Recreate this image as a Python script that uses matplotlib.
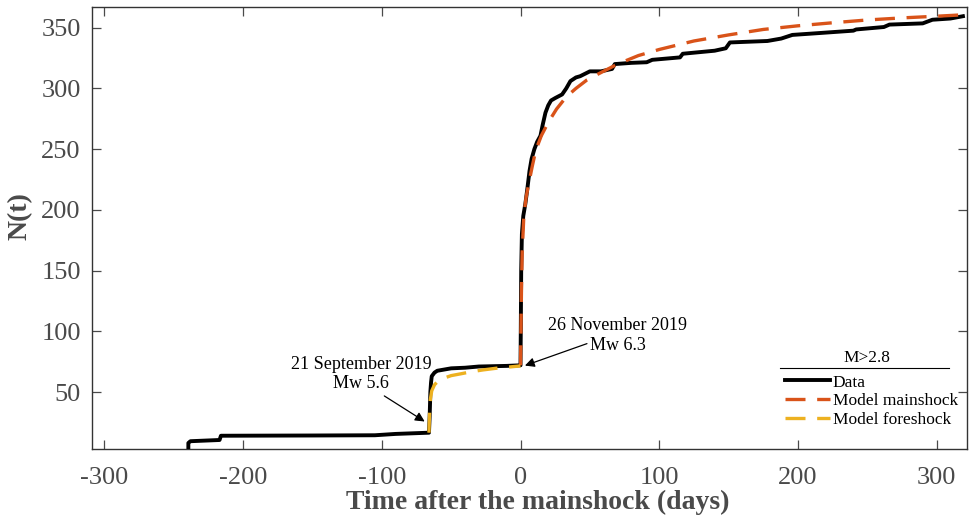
import matplotlib
matplotlib.use("Agg")
import matplotlib.pyplot as plt
from matplotlib.lines import Line2D

plt.rcParams['font.family'] = ['Liberation Serif', 'DejaVu Serif']
plt.rcParams['axes.unicode_minus'] = False

# observed cumulative number of events (days after mainshock, N)
data_t = [-239.5, -239.5, -238, -217, -216, -150, -105, -90, -66, -65.5, -65, -64.5,
          -64, -62, -60, -50, -40, -30, -10, 0, 0.2, 0.5, 1, 2, 3.5, 5, 6.5, 8,
          10, 12, 14.4, 16, 18, 20, 22, 25, 30, 33, 36, 40, 43, 50, 58, 66, 68,
          80, 91, 95, 115, 117, 140, 148, 151, 178, 188, 196, 215, 240, 242,
          262, 266, 290, 297, 310, 319]
data_n = [4.5, 8, 9.5, 10.5, 14, 14.2, 14.4, 15.5, 16.5, 30, 50, 58,
          63, 66, 67.5, 69.5, 70, 71, 71.5, 72, 100, 150, 180, 195, 205, 218, 232, 242,
          250, 256, 261, 270, 280, 286, 290, 292, 295, 300, 306, 309, 310, 314, 314, 316, 320,
          321, 321.5, 323.5, 325.5, 328.5, 331, 333, 337.8, 339, 341, 344, 345.5, 347.5, 348.5,
          350.5, 352.5, 353.5, 356.5, 357.5, 359.4]

# model curves
main_t = [0, 0.3, 0.7, 1.2, 2.4, 4, 6, 8.5, 11, 15, 20, 26, 33, 40, 48, 58, 70, 85,
          100, 125, 150, 175, 200, 225, 250, 275, 300, 320]
main_n = [72, 100, 135, 165, 195, 210, 222, 236, 249, 261, 272, 283, 293, 300, 307, 313,
          320, 327, 332, 339, 344, 348.5, 351.5, 354, 356.3, 358, 359.4, 360.6]

fore_t = [-66, -65.8, -65.5, -65, -64, -62, -59, -55, -50, -43, -35, -27, -18, -9, 0]
fore_n = [16.5, 25, 35, 44, 51, 56, 59.5, 61.5, 63.5, 65, 66.8, 68.2, 69.5, 70.5, 71.5]

xticks = [-300, -200, -100, 0, 100, 200, 300]
yticks = [50, 100, 150, 200, 250, 300, 350]

c_main = '#D95319'
c_fore = '#EDB120'
grey = '#4a4a4a'

fig = plt.figure(figsize=(9.7, 5.21), dpi=100)
ax = fig.add_axes([0.0948, 0.138, 0.9022, 0.8486])

ax.plot(data_t, data_n, color='black', lw=2.8, label='Data', zorder=3)
ax.plot(main_t, main_n, color=c_main, lw=2.4, dashes=(6, 3.5), label='Model mainshock', zorder=4)
ax.plot(fore_t, fore_n, color=c_fore, lw=2.4, dashes=(6, 3.5), label='Model foreshock', zorder=4)

ax.set_xlim(-309, 322)
ax.set_ylim(3, 367)
ax.set_xticks(xticks)
ax.set_yticks(yticks)
ax.tick_params(direction='in', length=6.5, width=0.9, top=True, right=True,
               labelsize=19, labelcolor=grey, color=grey)
ax.tick_params(axis='x', pad=13)
ax.tick_params(axis='y', pad=8)
for s in ax.spines.values():
    s.set_color('#333333')
    s.set_linewidth(1.0)

ax.set_xlabel('Time after the mainshock (days)', fontsize=20, fontweight='bold', color=grey)
ax.xaxis.set_label_coords(0.509, -0.093)
ax.set_ylabel('N(t)', fontsize=20, fontweight='bold', color=grey)
ax.yaxis.set_label_coords(-0.0674, 0.528)

# annotations
ax.text(-114.8, 64.7, '21 September 2019\nMw 5.6', fontsize=13, ha='center', va='center',
        linespacing=1.2)
ax.annotate('', xy=(-67.4, 24.5), xytext=(-99.9, 48),
            arrowprops=dict(arrowstyle='-|>', color='black', lw=0.9, mutation_scale=14))
ax.text(70, 96.4, '26 November 2019\nMw 6.3', fontsize=13, ha='center', va='center',
        linespacing=1.2)
ax.annotate('', xy=(1.3, 71), xytext=(49.8, 90.6),
            arrowprops=dict(arrowstyle='-|>', color='black', lw=0.9, mutation_scale=14))

# legend with a title line
ax.text(0.885, 0.205, 'M>2.8', transform=ax.transAxes, fontsize=12.5, ha='center', va='center')
ax.add_line(Line2D([0.786, 0.979], [0.183, 0.183], transform=ax.transAxes,
                   color='black', lw=0.8))
ax.legend(loc='upper left', bbox_to_anchor=(0.792, 0.169), frameon=False, fontsize=12.5,
          borderpad=0, borderaxespad=0, handlelength=2.6, handletextpad=0.15,
          labelspacing=0.15)

fig.savefig('out.png', dpi=100)
